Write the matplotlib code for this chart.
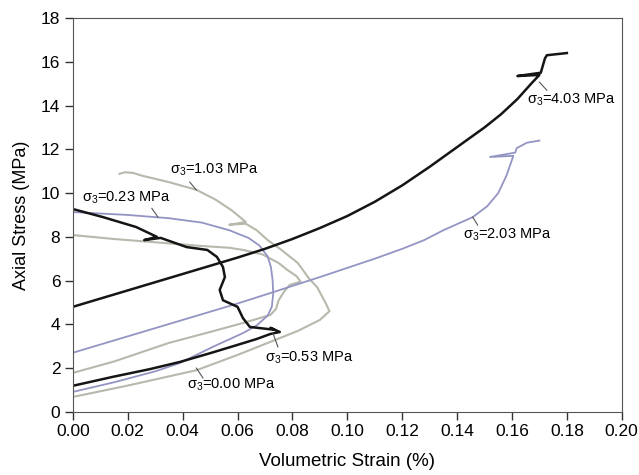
import numpy as np
import matplotlib.pyplot as plt

plt.rcParams['font.family'] = ['Liberation Sans', 'DejaVu Sans']
plt.rcParams['mathtext.fontset'] = 'custom'
plt.rcParams['mathtext.rm'] = 'Liberation Sans'
plt.rcParams['mathtext.default'] = 'regular'

# volumetric strain (%) / axial stress (MPa) per confining pressure
strain_000 = [0.0, 0.015, 0.035, 0.05, 0.062, 0.072, 0.074, 0.075, 0.077, 0.079, 0.083,
              0.0815, 0.078, 0.075, 0.069, 0.062, 0.057, 0.047, 0.03, 0.015, 0.0]
stress_000 = [1.78, 2.3, 3.15, 3.65, 4.06, 4.43, 4.7, 5.1, 5.5, 5.8, 5.95,
              6.2, 6.5, 6.8, 7.2, 7.4, 7.5, 7.58, 7.75, 7.9, 8.08]

strain_023 = [0.0, 0.015, 0.03, 0.039, 0.051, 0.062, 0.067, 0.071, 0.0725, 0.073,
              0.0728, 0.0722, 0.071, 0.068, 0.064, 0.057, 0.047, 0.035, 0.02, 0.0]
stress_023 = [0.91, 1.35, 1.85, 2.23, 2.97, 3.6, 3.95, 4.4, 4.8, 5.4,
              6.0, 6.6, 7.1, 7.6, 7.95, 8.3, 8.65, 8.85, 9.0, 9.13]

strain_053 = [0.0, 0.0146, 0.028, 0.039, 0.05, 0.06, 0.067, 0.072, 0.0754, 0.072,
              0.0735, 0.0645, 0.062, 0.06, 0.0547, 0.0535, 0.0554, 0.0547, 0.0525,
              0.049, 0.0415, 0.032, 0.026, 0.0306, 0.023, 0.011, 0.0]
stress_053 = [1.19, 1.6, 1.95, 2.28, 2.68, 3.06, 3.33, 3.56, 3.65, 3.84,
              3.75, 3.88, 4.28, 4.8, 5.1, 5.57, 6.16, 6.62, 7.08,
              7.4, 7.53, 7.95, 7.85, 8.0, 8.45, 8.9, 9.27]

strain_103 = [0.0, 0.02, 0.045, 0.06, 0.072, 0.082, 0.09, 0.0935, 0.092, 0.089,
              0.086, 0.082, 0.076, 0.071, 0.067, 0.063, 0.057, 0.063, 0.058,
              0.052, 0.045, 0.035, 0.025, 0.022, 0.019, 0.017]
stress_103 = [0.68, 1.2, 1.9, 2.6, 3.2, 3.7, 4.2, 4.6, 5.0, 5.7,
              6.1, 6.8, 7.4, 7.85, 8.3, 8.6, 8.55, 8.68, 9.2,
              9.7, 10.15, 10.5, 10.8, 10.92, 10.95, 10.88]

strain_203 = [0.0, 0.02, 0.04, 0.06, 0.072, 0.09, 0.11, 0.12, 0.128, 0.135, 0.1457,
              0.151, 0.155, 0.158, 0.1605, 0.152, 0.1612, 0.1617, 0.1654, 0.170]
stress_203 = [2.7, 3.45, 4.2, 4.95, 5.43, 6.16, 7.0, 7.45, 7.85, 8.3, 8.9,
              9.4, 10.0, 10.8, 11.7, 11.65, 11.85, 12.05, 12.3, 12.4]

strain_403 = [0.0, 0.02, 0.04, 0.06, 0.07, 0.08, 0.09, 0.1, 0.11, 0.12, 0.13,
              0.14, 0.15, 0.156, 0.162, 0.167, 0.170, 0.162, 0.1705, 0.172,
              0.1727, 0.180]
stress_403 = [4.8, 5.55, 6.3, 7.05, 7.45, 7.9, 8.4, 8.95, 9.6, 10.35, 11.2,
              12.1, 13.0, 13.6, 14.3, 15.0, 15.4, 15.35, 15.5, 16.15,
              16.3, 16.4]

black = '#151515'
blue = '#9494c4'
gray = '#b6b9ab'

fig = plt.figure(figsize=(6.39, 4.75), dpi=100)
ax = fig.add_axes([0.114, 0.133, 0.859, 0.829])

ax.plot(strain_000, stress_000, color=gray, lw=1.5)
ax.plot(strain_103, stress_103, color=gray, lw=1.5)
ax.plot(strain_023, stress_023, color=blue, lw=1.3)
ax.plot(strain_203, stress_203, color=blue, lw=1.3)
ax.plot(strain_053, stress_053, color=black, lw=1.8)
ax.plot(strain_403, stress_403, color=black, lw=1.8)

# labels with pointer lines
labels = [
    (r'$\sigma_3$=1.03 MPa', 0.0353, 11.05, (0.0426, 10.5), (0.045, 10.14)),
    (r'$\sigma_3$=0.23 MPa', 0.0033, 9.77, (0.0288, 9.3), (0.031, 8.9)),
    (r'$\sigma_3$=0.53 MPa', 0.070, 2.47, (0.0747, 2.97), (0.0729, 3.6)),
    (r'$\sigma_3$=0.00 MPa', 0.0415, 1.23, (0.0474, 1.55), (0.045, 2.0)),
    (r'$\sigma_3$=2.03 MPa', 0.142, 8.08, (0.1475, 8.54), (0.1457, 8.9)),
    (r'$\sigma_3$=4.03 MPa', 0.1654, 14.25, (0.1727, 14.7), (0.170, 15.07)),
]
for txt, tx, ty, p0, p1 in labels:
    ax.text(tx, ty, txt, fontsize=10.5, va='center', ha='left')
    ax.plot([p0[0], p1[0]], [p0[1], p1[1]], color='#555555', lw=0.8)

ax.set_xlim(0, 0.2)
ax.set_ylim(0, 18)
ax.set_xticks(np.arange(0, 0.201, 0.02))
ax.set_xticklabels([f'{v:.2f}' for v in np.arange(0, 0.201, 0.02)])
ax.set_yticks(np.arange(0, 19, 2))
ax.tick_params(direction='out', length=5.5, width=1, labelsize=12.5, color='#333333')
ax.set_xlabel('Volumetric Strain (%)', fontsize=13.5, labelpad=10)
ax.set_ylabel('Axial Stress (MPa)', fontsize=13, labelpad=8)
for s in ax.spines.values():
    s.set_color('#555555')

fig.savefig('out.png', dpi=100)
